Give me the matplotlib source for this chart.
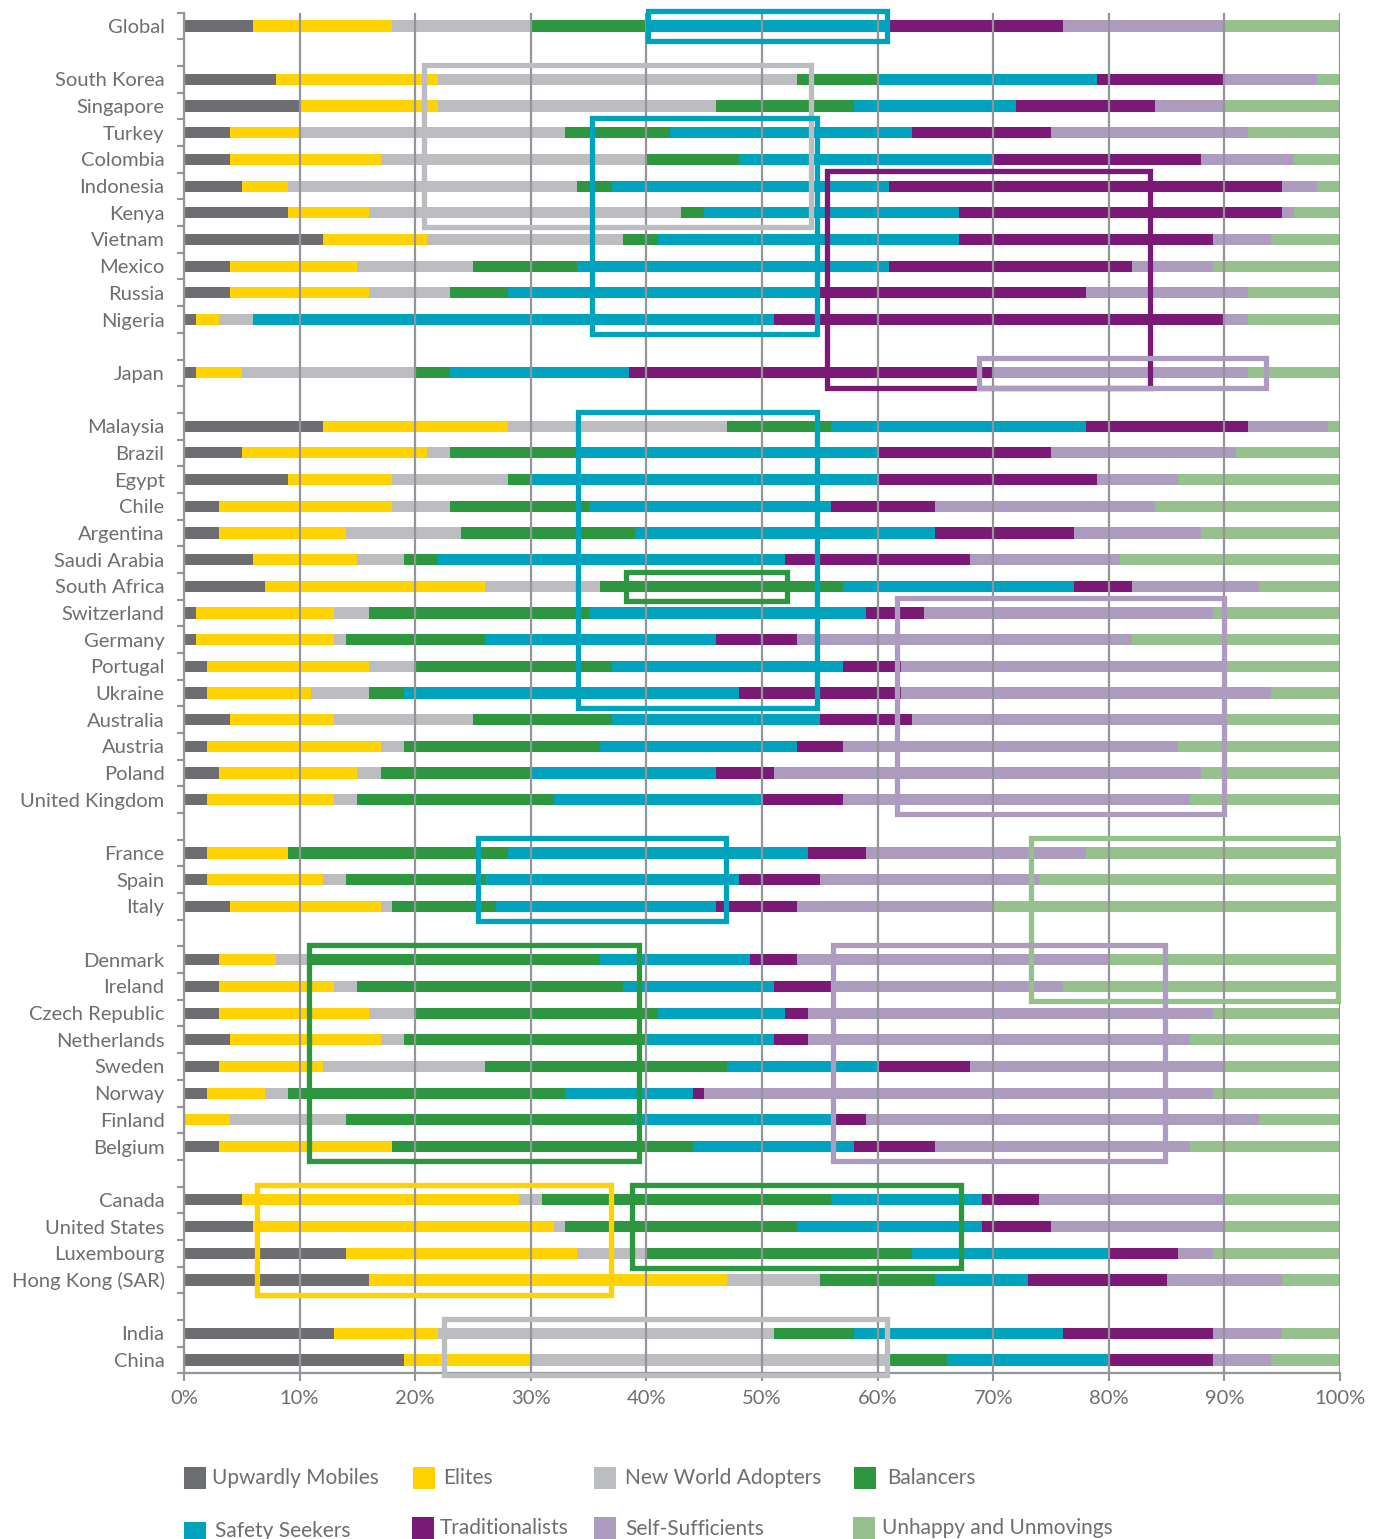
import matplotlib
matplotlib.use('Agg')
import matplotlib.pyplot as plt
from matplotlib.patches import Rectangle
import numpy as np

plt.rcParams['font.family'] = ['Lato', 'DejaVu Sans']
plt.rcParams['font.weight'] = 'normal'

countries = ['Global',
             'South Korea', 'Singapore', 'Turkey', 'Colombia', 'Indonesia', 'Kenya',
             'Vietnam', 'Mexico', 'Russia', 'Nigeria',
             'Japan',
             'Malaysia', 'Brazil', 'Egypt', 'Chile', 'Argentina', 'Saudi Arabia',
             'South Africa', 'Switzerland', 'Germany', 'Portugal', 'Ukraine',
             'Australia', 'Austria', 'Poland', 'United Kingdom',
             'France', 'Spain', 'Italy',
             'Denmark', 'Ireland', 'Czech Republic', 'Netherlands', 'Sweden',
             'Norway', 'Finland', 'Belgium',
             'Canada', 'United States', 'Luxembourg', 'Hong Kong (SAR)',
             'India', 'China']
group_sizes = [1, 10, 1, 15, 3, 8, 4, 2]

segments = ['Upwardly Mobiles', 'Elites', 'New World Adopters', 'Balancers',
            'Safety Seekers', 'Traditionalists', 'Self-Sufficients',
            'Unhappy and Unmovings']
colors = ['#6d6e71', '#ffd200', '#bcbdc0', '#2c973e',
          '#00a3be', '#7a1a76', '#ad9cbf', '#96c18c']

upwardly_mobiles = [6, 8, 10, 4, 4, 5, 9, 12, 4, 4, 1, 1, 12, 5, 9, 3, 3, 6, 7, 1, 1, 2, 2,
                    4, 2, 3, 2, 2, 2, 4, 3, 3, 3, 4, 3, 2, 0, 3, 5, 6, 14, 16, 13, 19]
elites = [12, 14, 12, 6, 13, 4, 7, 9, 11, 12, 2, 4, 16, 16, 9, 15, 11, 9, 19, 12, 12, 14, 9,
          9, 15, 12, 11, 7, 10, 13, 5, 10, 13, 13, 9, 5, 4, 15, 24, 26, 20, 31, 9, 11]
new_world_adopters = [12, 31, 24, 23, 23, 25, 27, 17, 10, 7, 3, 15, 19, 2, 10, 5, 10, 4, 10, 3,
                      1, 4, 5, 12, 2, 2, 2, 0, 2, 1, 3, 2, 4, 2, 14, 2, 10, 0, 2, 1, 6, 8, 29, 31]
balancers = [10, 7, 12, 9, 8, 3, 2, 3, 9, 5, 0, 3, 9, 11, 2, 12, 15, 3, 21, 19, 12, 17, 3,
             12, 17, 13, 17, 19, 12, 9, 25, 23, 21, 21, 21, 24, 25, 26, 25, 20, 23, 10, 7, 5]
safety_seekers = [21, 19, 14, 21, 22, 24, 22, 26, 27, 27, 45, 15.5, 22, 26, 30, 21, 26, 30, 20,
                  24, 20, 20, 29, 18, 17, 16, 18, 26, 22, 19, 13, 13, 11, 11, 13, 11, 17, 14,
                  13, 16, 17, 8, 18, 14]
traditionalists = [15, 11, 12, 12, 18, 34, 28, 22, 21, 23, 39, 31.5, 14, 15, 19, 9, 12, 16, 5,
                   5, 7, 5, 14, 8, 4, 5, 7, 5, 7, 7, 4, 5, 2, 3, 8, 1, 3, 7, 5, 6, 6, 12, 13, 9]
self_sufficients = [14, 8, 6, 17, 8, 3, 1, 5, 7, 14, 2, 22, 7, 16, 7, 19, 11, 13, 11, 25, 29,
                    28, 32, 27, 29, 37, 30, 19, 19, 17, 27, 20, 35, 33, 22, 44, 34, 22, 16, 15,
                    3, 10, 6, 5]
unhappy_unmovings = [10, 2, 10, 8, 4, 2, 4, 6, 11, 8, 8, 8, 1, 9, 14, 16, 12, 19, 7, 11, 18,
                     10, 6, 10, 14, 12, 13, 22, 26, 30, 20, 24, 11, 13, 10, 11, 7, 13, 10, 10,
                     11, 5, 5, 6]
series = [upwardly_mobiles, elites, new_world_adopters, balancers,
          safety_seekers, traditionalists, self_sufficients, unhappy_unmovings]

x_ticks = [0, 10, 20, 30, 40, 50, 60, 70, 80, 90, 100]
x_tick_labels = ['0%', '10%', '20%', '30%', '40%', '50%', '60%', '70%', '80%', '90%', '100%']

# highlight boxes: (segment index, x0 %, x1 %, first row, last row)
boxes = [(4, 40.1, 60.8, 'Global', 'Global'),
         (2, 20.8, 54.2, 'South Korea', 'Kenya'),
         (4, 35.3, 54.8, 'Turkey', 'Nigeria'),
         (5, 55.6, 83.6, 'Indonesia', 'Japan'),
         (6, 68.8, 93.6, 'Japan', 'Japan'),
         (4, 34.1, 54.8, 'Malaysia', 'Ukraine'),
         (3, 38.2, 52.2, 'South Africa', 'South Africa'),
         (6, 61.7, 90.0, 'Switzerland', 'United Kingdom'),
         (4, 25.4, 46.9, 'France', 'Italy'),
         (7, 73.3, 99.8, 'France', 'Ireland'),
         (3, 10.8, 39.4, 'Denmark', 'Belgium'),
         (6, 56.1, 84.9, 'Denmark', 'Belgium'),
         (1, 6.3, 36.9, 'Canada', 'Hong Kong (SAR)'),
         (3, 38.75, 67.2, 'Canada', 'Luxembourg'),
         (2, 22.5, 60.8, 'India', 'China')]

# positions (one blank slot between groups)
pos = []
s = 0
for g in group_sizes:
    for i in range(g):
        pos.append(s)
        s += 1
    s += 1
pos = np.array(pos, dtype=float)
row_of = dict(zip(countries, pos))

W, H = 1382, 1539
fig = plt.figure(figsize=(W / 100, H / 100), dpi=100)
top_px, bot_px = 12.7, 1373.3
ax = fig.add_axes([184 / W, 1 - bot_px / H, (1340 - 184) / W, (bot_px - top_px) / H])

grid_c = '#939598'
text_c = '#6d6e71'

left = np.zeros(len(countries))
for vals, col, name in zip(series, colors, segments):
    v = np.array(vals, dtype=float)
    ax.barh(pos, v, left=left, height=0.42, color=col, edgecolor='none', zorder=1, label=name)
    left += v

ax.set_xlim(0, 100)
ax.set_ylim(50.5, -0.5)

ax.set_xticks(x_ticks)
ax.set_xticklabels(x_tick_labels)
ax.tick_params(axis='x', direction='out', length=6, width=1.5, color=grid_c,
               labelsize=14.5, labelcolor=text_c, pad=6)
ax.set_yticks(pos)
ax.set_yticklabels(countries)
ax.tick_params(axis='y', which='major', length=0, labelsize=14.5, labelcolor=text_c, pad=14)
ax.set_yticks(np.arange(-0.5, 51, 1), minor=True)
ax.tick_params(axis='y', which='minor', length=5, width=1.5, color=grid_c)

ax.set_axisbelow(False)
ax.grid(axis='x', color=grid_c, lw=1.6)
for sp in ['top', 'right']:
    ax.spines[sp].set_visible(False)
for sp in ['left', 'bottom']:
    ax.spines[sp].set_color(grid_c)
    ax.spines[sp].set_linewidth(1.6)

for seg, x0, x1, r0, r1 in boxes:
    y0 = row_of[r0] - 0.55
    y1 = row_of[r1] + 0.55
    ax.add_patch(Rectangle((x0, y0), x1 - x0, y1 - y0, fill=False,
                           edgecolor=colors[seg], lw=3.8, zorder=4, clip_on=False))

# legend (manual, two rows)
legend_items = [(0, 184, 1467, 212, 1478), (1, 413, 1467, 443, 1478),
                (2, 594, 1467, 625, 1478), (3, 854, 1467, 887, 1478),
                (4, 184, 1522, 215, 1531), (5, 412, 1517, 440, 1528),
                (6, 594, 1517, 625, 1529), (7, 853, 1517, 882, 1528)]
for idx, sx, sy, tx, ty in legend_items:
    fig.add_artist(Rectangle((sx / W, 1 - (sy + 22) / H), 22 / W, 22 / H,
                             transform=fig.transFigure, facecolor=colors[idx],
                             edgecolor='none'))
    fig.text(tx / W, 1 - ty / H, segments[idx], ha='left', va='center',
             fontsize=15, color=text_c)

fig.savefig('out.png', dpi=100)
